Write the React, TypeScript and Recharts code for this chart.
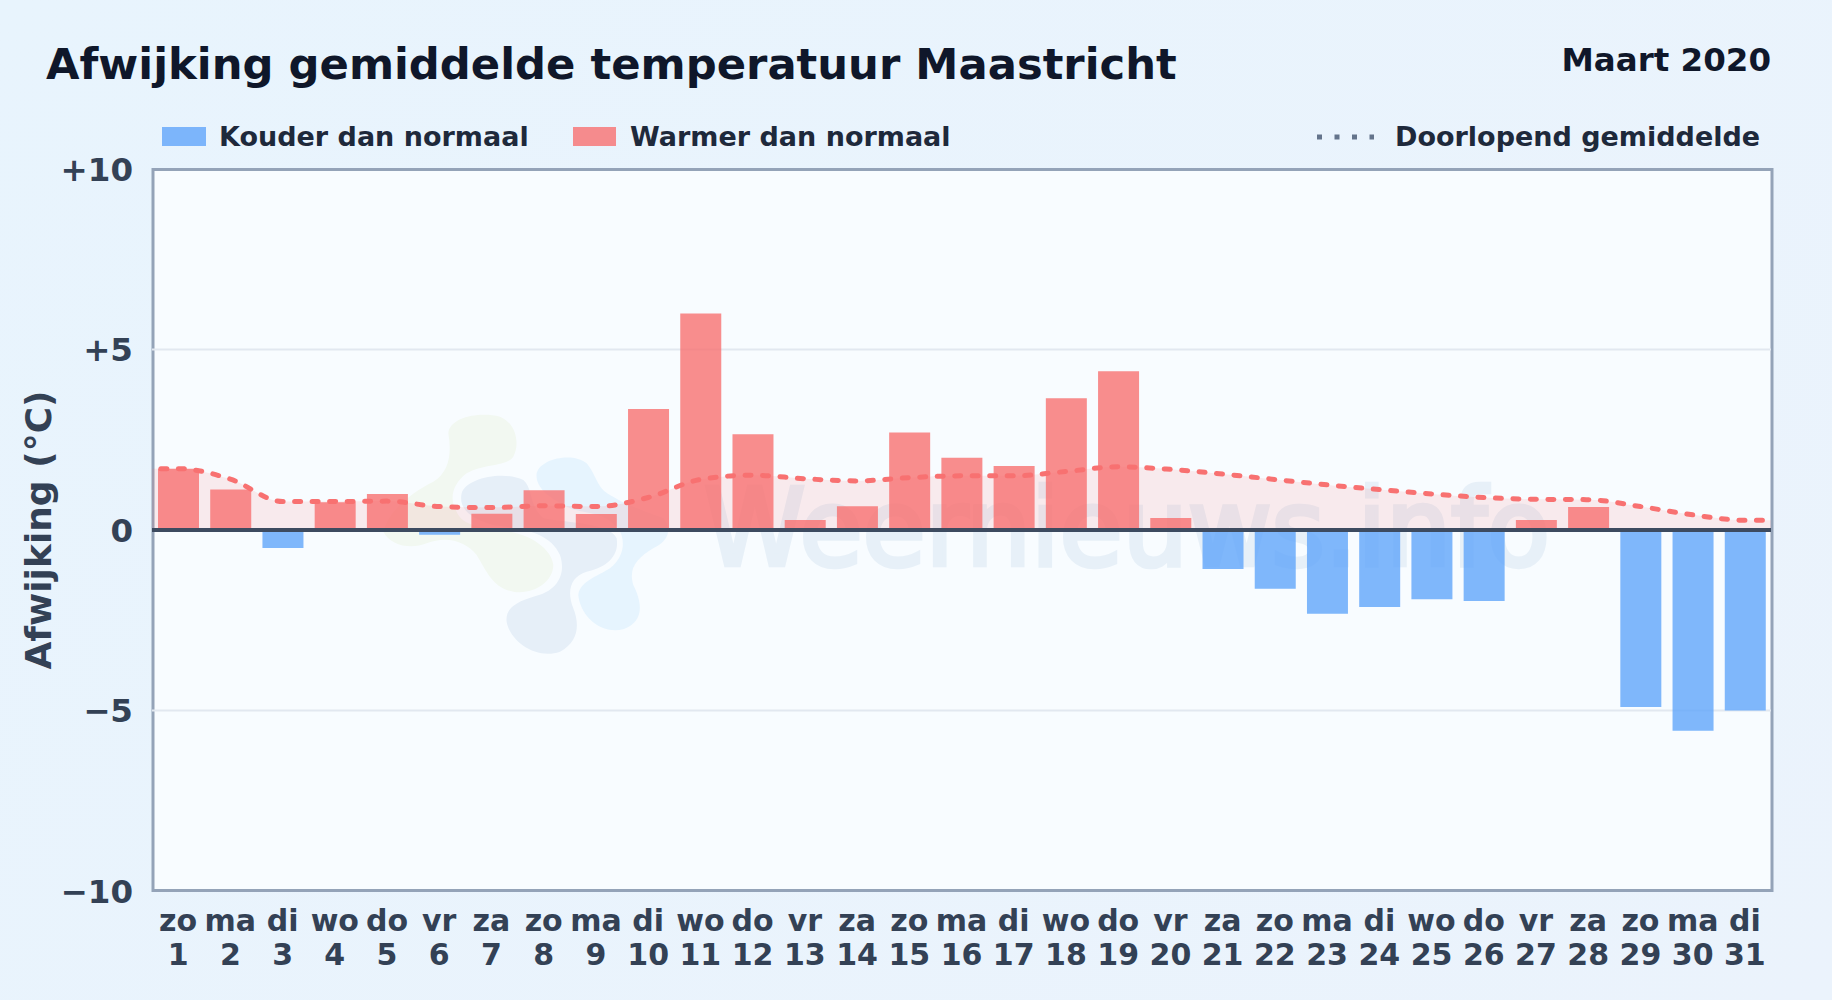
import { Area, Bar, CartesianGrid, Cell, ComposedChart, Line, ReferenceLine, XAxis, YAxis } from 'recharts';

const FONT = '"DejaVu Sans", sans-serif';
const W = 1832;
const H = 1000;

const days = [1, 2, 3, 4, 5, 6, 7, 8, 9, 10, 11, 12, 13, 14, 15, 16, 17, 18, 19, 20, 21, 22, 23, 24, 25, 26, 27, 28, 29, 30, 31];
const weekdays = ['zo', 'ma', 'di', 'wo', 'do', 'vr', 'za', 'zo', 'ma', 'di', 'wo', 'do', 'vr', 'za', 'zo', 'ma', 'di', 'wo', 'do', 'vr', 'za', 'zo', 'ma', 'di', 'wo', 'do', 'vr', 'za', 'zo', 'ma', 'di'];
const deviation = [1.7, 1.12, -0.5, 0.77, 1.0, -0.13, 0.45, 1.1, 0.44, 3.35, 6.0, 2.65, 0.28, 0.66, 2.7, 2.0, 1.77, 3.65, 4.4, 0.33, -1.08, -1.63, -2.32, -2.13, -1.92, -1.97, 0.28, 0.64, -4.9, -5.56, -5.0];
const runningAverage = [1.7, 1.41, 0.79, 0.79, 0.8, 0.65, 0.62, 0.67, 0.65, 0.9, 1.4, 1.52, 1.42, 1.36, 1.45, 1.5, 1.5, 1.62, 1.75, 1.68, 1.55, 1.4, 1.25, 1.12, 1.0, 0.9, 0.85, 0.84, 0.65, 0.42, 0.27];
const yTicks = [-10, -5, 0, 5, 10];

// the average line runs on to both edges of the plot, the extra rows sit outside the domain and get clipped
const rows = [
  { x: 0, avg: runningAverage[0] },
  ...days.map((d, i) => ({ x: d, value: deviation[i], avg: runningAverage[i] })),
  { x: 32, avg: runningAverage[30] },
];

const formatY = (v: number) => (v > 0 ? `+${v}` : v < 0 ? `\u2212${-v}` : '0');

function DayTick({ x, y, payload }: any) {
  const i = days.indexOf(payload.value);
  return (
    <text textAnchor="middle" fontFamily={FONT} fontWeight={700} fontSize={30} fill="#334155">
      <tspan x={x} y={y + 32}>{weekdays[i]}</tspan>
      <tspan x={x} y={y + 66}>{payload.value}</tspan>
    </text>
  );
}

function Backdrop() {
  return (
    <svg width={W} height={H} style={{ position: 'absolute', left: 0, top: 0 }}>
      <rect x={153} y={169.5} width={1619} height={721} fill="#f8fcff" stroke="#94a3b8" strokeWidth={3} />
      <g transform="translate(370 395) scale(0.3333)">
        <path fill="#f2f8f1" d="M235 115 C240 65 330 50 390 65 C440 85 450 150 430 185 C410 215 340 205 290 235 C250 265 235 310 260 350 C280 395 330 395 420 410 C480 420 545 460 550 510 C550 560 490 600 430 590 C370 580 350 530 320 480 C290 440 230 420 170 445 C120 465 60 450 40 410 C60 340 130 290 190 260 C240 230 245 170 235 115 Z" />
        <path fill="#e6eff8" d="M275 295 C285 250 400 225 460 255 C490 280 475 330 520 370 C600 385 720 385 740 430 C750 490 700 520 650 530 C600 545 590 590 610 640 C630 690 625 740 570 770 C500 795 420 740 410 680 C405 640 440 620 490 605 C560 590 590 540 570 480 C540 410 450 400 370 390 C300 370 265 340 275 295 Z" />
        <path fill="#e6f4fe" d="M500 235 C510 190 610 170 650 205 C680 240 680 280 720 300 C770 330 800 340 880 370 C910 410 890 440 850 460 C800 490 775 520 790 570 C820 630 820 680 760 703 C690 720 630 660 625 600 C630 560 680 545 720 520 C760 490 770 440 745 400 C700 350 660 360 600 340 C540 310 495 280 500 235 Z" />
      </g>
      <text x={704} y={565} fontFamily={FONT} fontSize={107} fill="#e7f0f8" stroke="#e7f0f8" strokeWidth={4.5} textLength={846} lengthAdjust="spacingAndGlyphs">Weernieuws.info</text>
    </svg>
  );
}

function Header() {
  return (
    <svg width={W} height={170} style={{ position: 'absolute', left: 0, top: 0 }} fontFamily={FONT} fontWeight={700}>
      <text x={46} y={79} fontSize={43.3} fill="#0f172a">Afwijking gemiddelde temperatuur Maastricht</text>
      <text x={1771} y={71} fontSize={32.5} fill="#0f172a" textAnchor="end">Maart 2020</text>
      <rect x={162} y={127} width={44} height={19} fill="#60a5fa" fillOpacity={0.8} />
      <text x={219} y={146} fontSize={27} fill="#1e293b">Kouder dan normaal</text>
      <rect x={573} y={127} width={43} height={19} fill="#f87171" fillOpacity={0.8} />
      <text x={630} y={146} fontSize={27} fill="#1e293b">Warmer dan normaal</text>
      <line x1={1317} x2={1374} y1={137} y2={137} stroke="#64748b" strokeWidth={5} strokeDasharray="5 12.5" />
      <text x={1395} y={146} fontSize={27} fill="#1e293b">Doorlopend gemiddelde</text>
    </svg>
  );
}

export default function App() {
  return (
    <div style={{ position: 'absolute', left: 0, top: 0, width: W, height: H, overflow: 'hidden', background: 'linear-gradient(135deg, #e8f4fd, #ebf3fc)' }}>
      <Backdrop />
      <Header />
      <div style={{ position: 'absolute', left: 0, top: 0 }}>
        <ComposedChart width={W} height={H} data={rows} margin={{ top: 169, right: 61, bottom: 0, left: 0 }}>
          <CartesianGrid horizontal vertical={false} stroke="#e2e8f0" strokeWidth={2} horizontalValues={[-5, 5]} />
          <XAxis dataKey="x" type="number" domain={[0.5, 31.5]} ticks={days} interval={0} height={109} axisLine={false} tickLine={false} tick={<DayTick />} allowDataOverflow />
          <YAxis
            type="number"
            domain={[-10, 10]}
            ticks={yTicks}
            width={152}
            axisLine={false}
            tickLine={false}
            tickMargin={13}
            tickFormatter={formatY}
            tick={{ fontFamily: FONT, fontWeight: 700, fontSize: 32.5, fill: '#334155' }}
            label={{ value: 'Afwijking (°C)', angle: -90, position: 'insideLeft', offset: 38, style: { fontFamily: FONT, fontWeight: 700, fontSize: 36, fill: '#334155', textAnchor: 'middle' } }}
          />
          <Area dataKey="avg" type="monotone" baseValue={0} fill="#f87171" fillOpacity={0.13} stroke="none" isAnimationActive={false} dot={false} activeDot={false} />
          <Bar dataKey="value" barSize={41} isAnimationActive={false}>
            {rows.map((r) => (
              <Cell key={r.x} fill={(r.value ?? 0) < 0 ? '#60a5fa' : '#f87171'} fillOpacity={0.8} />
            ))}
          </Bar>
          <Line dataKey="avg" type="monotone" stroke="#f87171" strokeWidth={5} strokeDasharray="6 11.5" strokeLinecap="round" dot={false} activeDot={false} isAnimationActive={false} />
          <ReferenceLine y={0} stroke="#3d4b60" strokeWidth={4} />
        </ComposedChart>
      </div>
    </div>
  );
}
